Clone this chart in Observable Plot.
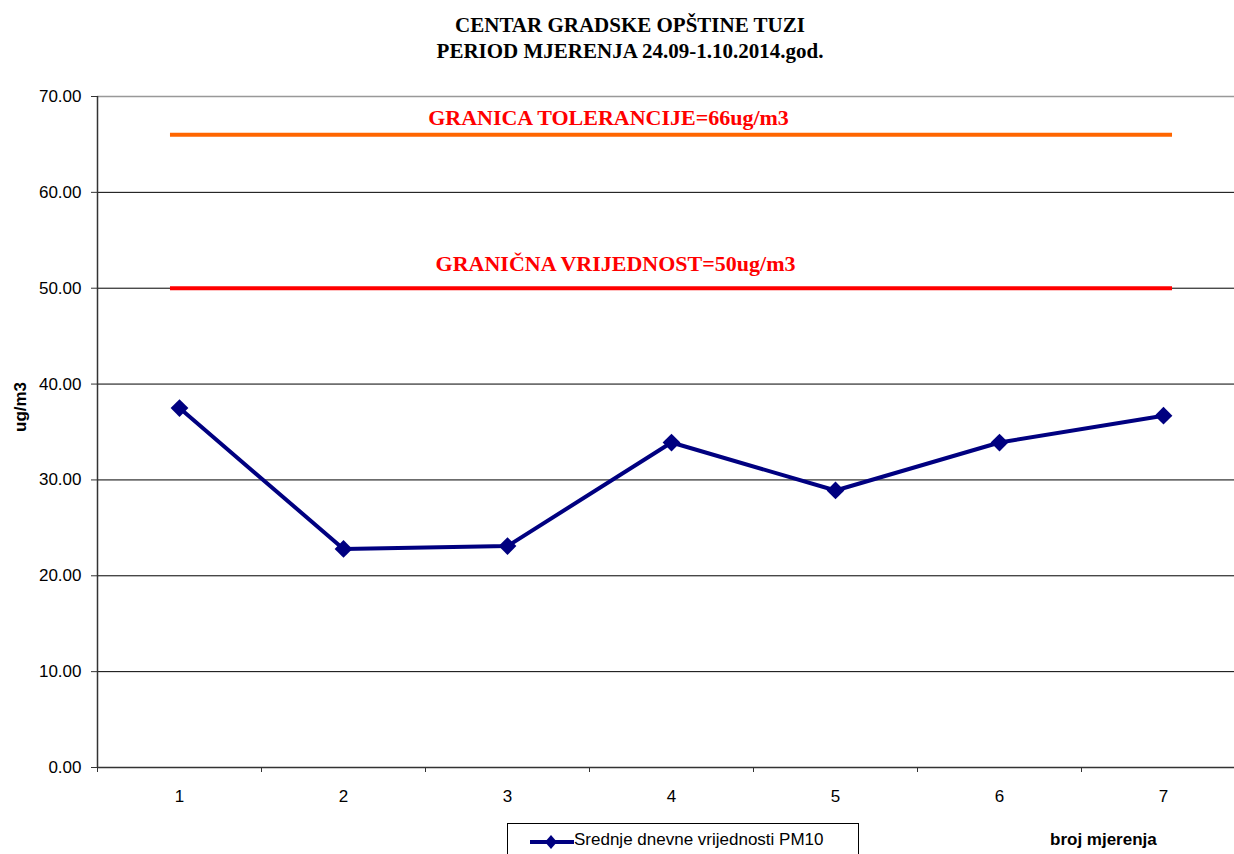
<!DOCTYPE html>
<html>
<head>
<meta charset="utf-8">
<script src="https://cdn.jsdelivr.net/npm/d3@7"></script>
<script src="https://cdn.jsdelivr.net/npm/@observablehq/plot@0.6"></script>
<style>
  html, body { margin: 0; padding: 0; background: #fff; width: 1234px; height: 854px; overflow: hidden; position: relative; }
  #title { position: absolute; left: 0; top: 12px; width: 1234px; padding-left: 26px; box-sizing: border-box; text-align: center;
    font-family: "Liberation Serif", "Times New Roman", serif; font-weight: bold; font-size: 21px; line-height: 26px; color: #000; }
  #chart { position: absolute; left: 0; top: 0; width: 1234px; height: 854px; overflow: hidden; }
  #chart svg { max-width: none !important; width: 1260px !important; height: 854px !important; }
  #legend { position: absolute; left: 507px; top: 823px; width: 352px; height: 31px; border: 1px solid #000; border-bottom: none; box-sizing: border-box;
    font-family: "Liberation Sans", Arial, sans-serif; font-size: 17px; color: #000; overflow: hidden; }
  #legend svg { position: absolute; left: 21px; top: 9px; }
  #legend span { position: absolute; left: 66px; top: 6px; white-space: nowrap; }
  #xlabel { position: absolute; left: 1050px; top: 830px; font-family: "Liberation Sans", Arial, sans-serif; font-weight: bold; font-size: 17px; color: #000; }
</style>
</head>
<body>
<div id="chart"></div>
<div id="title"></div>
<div id="legend"></div>
<div id="xlabel"></div>
<script>
// ---- data ----
const titleLines = ["CENTAR GRADSKE OPŠTINE TUZI", "PERIOD MJERENJA 24.09-1.10.2014.god."];
const categories = [1, 2, 3, 4, 5, 6, 7];
const pm10 = [37.5, 22.8, 23.1, 33.9, 28.9, 33.9, 36.7];
const seriesName = "Srednje dnevne vrijednosti PM10";
const yTicks = [0, 10, 20, 30, 40, 50, 60, 70];
const yLabel = "ug/m3";
const xLabel = "broj mjerenja";
const toleranceValue = 66;
const toleranceLabel = "GRANICA TOLERANCIJE=66ug/m3";
const limitValue = 50;
const limitLabel = "GRANIČNA VRIJEDNOST=50ug/m3";

const rows = categories.map((c, i) => ({x: c, y: pm10[i]}));
const bandEdges = d3.range(categories.length + 1).map(i => categories[0] - 0.5 + i);
const ends = 0.055; // half marker width of the limit series, in category units

document.getElementById("title").innerHTML = titleLines.join("<br>");
document.getElementById("xlabel").textContent = xLabel;
document.getElementById("legend").innerHTML =
  `<svg width="46" height="18"><line x1="1" y1="9" x2="45" y2="9" stroke="#000080" stroke-width="4"/>` +
  `<path d="M22 2 L28 9 L22 16 L16 9 Z" fill="#000080"/></svg><span>${seriesName}</span>`;

const chart = Plot.plot({
  width: 1260,
  height: 854,
  marginTop: 96,
  marginBottom: 87,
  marginLeft: 97,
  marginRight: 15,
  style: {fontFamily: "Liberation Sans, Arial, sans-serif", fontSize: "17px", background: "transparent", color: "#000", maxWidth: "none"},
  x: {domain: [bandEdges[0], bandEdges[bandEdges.length - 1]], axis: null},
  y: {domain: [0, 70], axis: null},
  marks: [
    Plot.ruleY(yTicks.filter(d => d > 0 && d < 70), {stroke: "#000", strokeWidth: 1}),
    Plot.ruleY([70], {stroke: "#999", strokeWidth: 1.5}),
    Plot.axisY({ticks: yTicks, tickSize: 6, tickPadding: 10, tickFormat: d3.format(".2f"), label: null, stroke: "#333"}),
    Plot.axisX({ticks: bandEdges, tickSize: 5, tickFormat: () => "", label: null, stroke: "#333"}),
    Plot.axisX({ticks: categories, tickSize: 0, tickPadding: 22, tickFormat: d => String(d), label: null}),
    Plot.ruleX([bandEdges[0]], {stroke: "#333", strokeWidth: 1.5}),
    Plot.ruleY([0], {stroke: "#333", strokeWidth: 1.5}),
    Plot.ruleY([toleranceValue], {x1: categories[0] - ends, x2: categories[categories.length - 1] + ends, stroke: "#FF6600", strokeWidth: 4}),
    Plot.ruleY([limitValue], {x1: categories[0] - ends, x2: categories[categories.length - 1] + ends, stroke: "#FF0000", strokeWidth: 4}),
    Plot.text([toleranceLabel], {x: () => 4, y: () => toleranceValue, text: d => d, dx: -63, dy: -10, lineAnchor: "bottom",
      fill: "#FF0000", fontFamily: "Liberation Serif, Times New Roman, serif", fontWeight: "bold", fontSize: 22}),
    Plot.text([limitLabel], {x: () => 4, y: () => limitValue, text: d => d, dx: -56, dy: -17, lineAnchor: "bottom",
      fill: "#FF0000", fontFamily: "Liberation Serif, Times New Roman, serif", fontWeight: "bold", fontSize: 22}),
    Plot.line(rows, {x: "x", y: "y", stroke: "#000080", strokeWidth: 4}),
    Plot.dot(rows, {x: "x", y: "y", symbol: "diamond2", r: 8, fill: "#000080", stroke: "none"}),
    Plot.text([yLabel], {frameAnchor: "left", dx: -77, rotate: -90, text: d => d, fontWeight: "bold", fontSize: 17, fill: "#000"})
  ]
});
document.getElementById("chart").appendChild(chart);
</script>
</body>
</html>
